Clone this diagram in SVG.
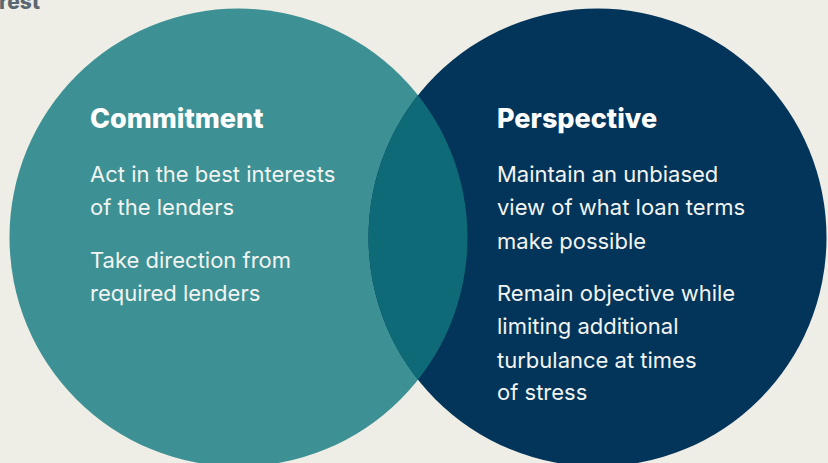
<svg xmlns="http://www.w3.org/2000/svg" width="828" height="463" viewBox="0 0 828 463">
  <style>
    .title { font-family: Inter, "Liberation Sans", sans-serif; font-weight: 800; font-size: 27px; fill: #ffffff; }
    .body { font-family: Inter, "Liberation Sans", sans-serif; font-weight: 400; font-size: 22px; fill: #f2f4f2; }
    .cut { font-family: Inter, "Liberation Sans", sans-serif; font-weight: 800; font-size: 21px; fill: #5b6770; }
  </style>
  <defs>
    <clipPath id="leftClip">
      <circle cx="238.5" cy="237.5" r="229"/>
    </clipPath>
  </defs>
  <rect width="828" height="463" fill="#eeede6"/>
  <text class="cut" x="-1" y="9">rest</text>
  <g id="commitment">
    <circle cx="238.5" cy="237.5" r="229" fill="#3d9194"/>
    <text class="title" x="90" y="128">Commitment</text>
    <text class="body" x="90" y="182">Act in the best interests</text>
    <text class="body" x="90" y="215">of the lenders</text>
    <text class="body" x="90" y="268">Take direction from</text>
    <text class="body" x="90" y="301">required lenders</text>
  </g>
  <g id="perspective">
    <circle cx="597.5" cy="237.5" r="229" fill="#033459"/>
    <text class="title" x="497" y="128">Perspective</text>
    <text class="body" x="497" y="182">Maintain an unbiased</text>
    <text class="body" x="497" y="215">view of what loan terms</text>
    <text class="body" x="497" y="249">make possible</text>
    <text class="body" x="497" y="301">Remain objective while</text>
    <text class="body" x="497" y="334">limiting additional</text>
    <text class="body" x="497" y="368">turbulance at times</text>
    <text class="body" x="497" y="400">of stress</text>
  </g>
  <g id="overlap">
    <circle cx="597.5" cy="237.5" r="229" fill="#0e6a76" clip-path="url(#leftClip)"/>
  </g>
</svg>
